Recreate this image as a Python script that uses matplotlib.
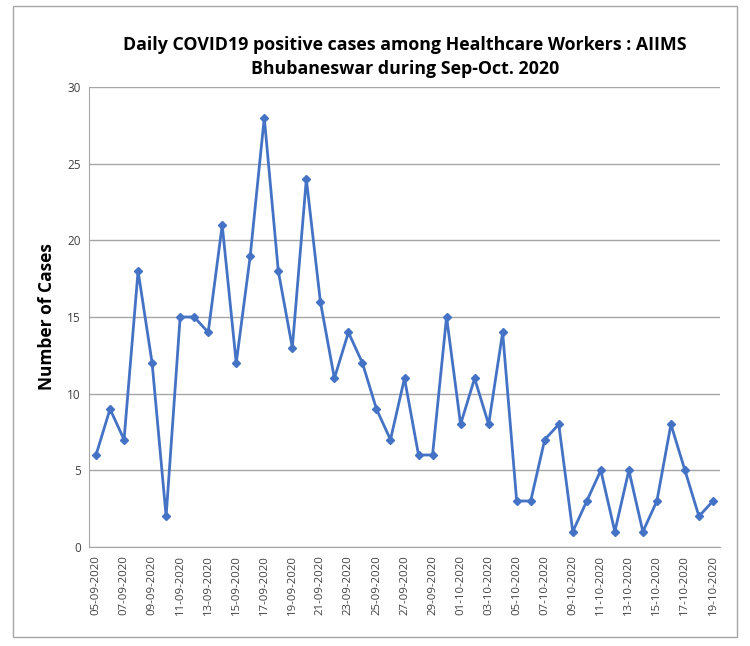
import matplotlib
matplotlib.use("Agg")
import matplotlib.pyplot as plt
from matplotlib.patches import Rectangle

sep_days = list(range(5, 31))
oct_days = list(range(1, 20))
dates = [f"{d:02d}-09-2020" for d in sep_days] + [f"{d:02d}-10-2020" for d in oct_days]
cases = [6, 9, 7, 18, 12, 2, 15, 15, 14, 21, 12, 19, 28, 18, 13, 24, 16, 11, 14, 12,
         9, 7, 11, 6, 6, 15,
         8, 11, 8, 14, 3, 3, 7, 8, 1, 3, 5, 1, 5, 1, 3, 8, 5, 2, 3]
yticks = [0, 5, 10, 15, 20, 25, 30]
title = "Daily COVID19 positive cases among Healthcare Workers : AIIMS\nBhubaneswar during Sep-Oct. 2020"
ylabel = "Number of Cases"

plt.rcParams['font.family'] = ['Open Sans', 'DejaVu Sans']

fig = plt.figure(figsize=(7.5, 6.46), dpi=100)
fig.patches.append(Rectangle((13/750, 1-637/646), (737-13)/750, (637-6)/646,
                             transform=fig.transFigure, fill=False,
                             edgecolor='#a6a6a6', linewidth=1))
ax = fig.add_axes([89/750, 1-547/646, (720-89)/750, (547-87)/646])

x = list(range(len(dates)))
ax.plot(x, cases, color='#4472C4', linewidth=2, marker='D', markersize=4.5, zorder=3)

ax.set_xlim(-0.5, len(dates)-0.5)
ax.set_ylim(0, 30)
ax.set_yticks(yticks)
ax.set_yticklabels([str(v) for v in yticks], fontsize=8.5, color='#404040')
ax.set_xticks(x[::2])
ax.set_xticklabels(dates[::2], rotation=90, fontsize=8.2, color='#404040')
ax.tick_params(axis='both', length=0, pad=6)
ax.yaxis.grid(True, color='#a6a6a6', linewidth=1)
ax.set_axisbelow(True)
for s in ['top', 'right']:
    ax.spines[s].set_visible(False)
ax.spines['left'].set_color('#a6a6a6')
ax.spines['bottom'].set_color('#a6a6a6')

ax.set_ylabel(ylabel, fontsize=12.5, fontweight='bold', labelpad=8)
fig.text(405/750, 1-57/646, title, ha='center', va='center', fontsize=12.8,
         fontweight='bold', linespacing=1.4)

fig.savefig("out.png", dpi=100)
